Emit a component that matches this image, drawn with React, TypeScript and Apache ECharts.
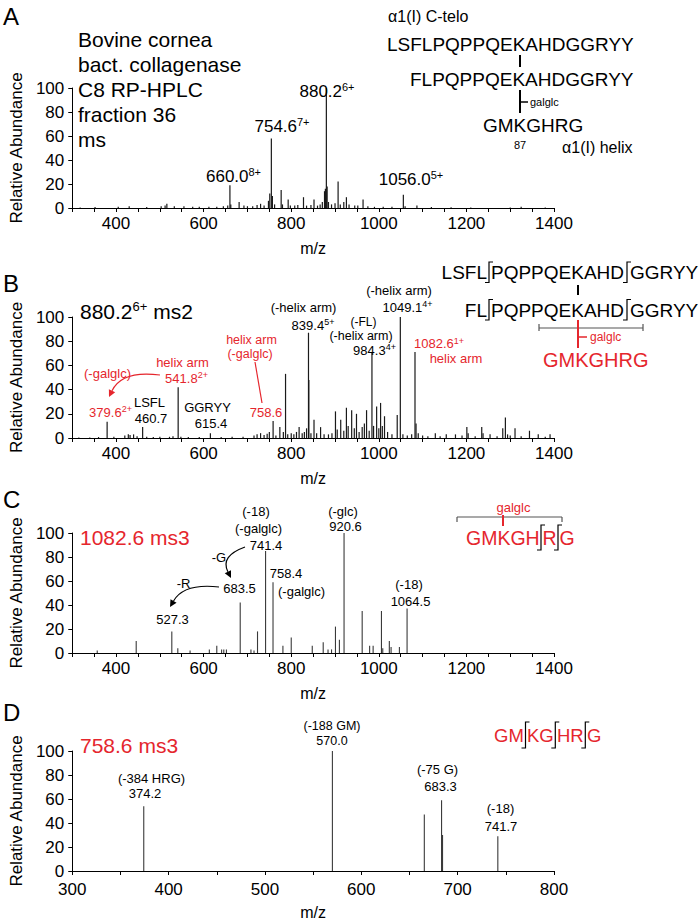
import React, { useEffect, useRef } from 'react';
import * as echarts from 'echarts';

const FONT = '"Liberation Sans", Arial, Helvetica, sans-serif';
const RED = '#e5262d';

// ---- data: [m/z, relative abundance] ----
const peaksA: [number, number][] = [
  [318, 0.5], [352, 0.8], [405, 1], [430, 1.5], [470, 0.8], [503, 1.5], [512, 2], [516, 3.5], [533, 1.5],
  [555, 1.5], [575, 1], [590, 1], [612, 1], [630, 1], [645, 1.5], [655, 2], [660, 19], [662, 3], [681, 5],
  [692, 2], [700, 1.5], [712, 1.5], [722, 2.5], [730, 3.5], [738, 2], [748, 6], [751, 12], [754.6, 58],
  [757, 10], [762, 3], [777, 15], [780, 3], [793, 7], [798, 2], [808, 2], [815, 2.5], [828, 9], [835, 2],
  [845, 2.5], [852, 7], [860, 2], [866, 3], [871, 5], [876, 14], [878, 16], [880.2, 100], [882, 18],
  [885, 5], [892, 3], [900, 4], [907, 22], [912, 3], [920, 5], [926, 9], [932, 3], [945, 2], [952, 2],
  [964, 7], [975, 1.5], [990, 1], [1010, 1], [1030, 1], [1056, 11], [1060, 1.5], [1087, 2], [1120, 0.8],
  [1165, 0.6], [1210, 0.5], [1300, 0.5], [1325, 1], [1380, 0.5],
];
const peaksB: [number, number][] = [
  [315, 0.5], [340, 0.5], [360, 0.8], [379.6, 13.5], [395, 1], [420, 2], [428, 3], [432, 2.5], [440, 3],
  [448, 1.5], [460.7, 9], [470, 1], [485, 0.8], [500, 1], [522, 1], [530, 1.5], [541.8, 42], [548, 1],
  [565, 0.8], [590, 0.8], [615.4, 4], [640, 0.8], [665, 1], [690, 1], [715, 2], [722, 3], [730, 4],
  [738, 2.5], [745, 3.5], [750, 5], [758.6, 14], [765, 2], [774, 9], [782, 5], [787, 53], [792, 3],
  [800, 4], [806, 3], [812, 5], [818, 9], [825, 4], [830, 5], [835, 8], [839.4, 87], [840.2, 48],
  [845, 4], [852, 15], [858, 4], [867, 9], [875, 3], [885, 3], [893, 4], [901, 22], [905, 7], [913, 15],
  [920, 6], [926, 25], [930, 10], [938, 23], [944, 8], [949, 20], [955, 5], [962, 9], [967, 12],
  [972, 23], [978, 6], [984.3, 71], [988, 10], [995, 26], [1000, 8], [1004, 29], [1008, 10], [1013, 18],
  [1020, 5], [1030, 3], [1042, 19], [1049.1, 100], [1055, 3], [1065, 2], [1075, 3], [1082.6, 71],
  [1085, 12], [1090, 4], [1100, 2], [1112, 1.5], [1129, 4], [1140, 1.5], [1154, 3], [1175, 3],
  [1190, 2], [1201, 9], [1204, 4], [1220, 1.5], [1235, 9], [1238, 4], [1254, 3], [1270, 1.5],
  [1283, 8], [1289, 17], [1294, 3], [1300, 2], [1311, 8], [1325, 1.5], [1344, 6], [1364, 3],
  [1380, 1], [1391, 3],
];
const peaksC: [number, number][] = [
  [357, 2], [446, 10], [527.3, 18], [541, 4], [569, 2], [613, 3], [630, 6], [641, 3], [646, 3], [652, 3],
  [683.5, 42], [708, 3], [715, 2], [723, 18], [741.4, 85], [758.4, 59], [781, 6], [800, 13], [848, 6],
  [873, 9], [884, 3], [892, 3], [901, 22], [910, 11], [920.6, 100], [962, 35], [979, 6], [987, 6],
  [1006, 35], [1009, 4], [1024, 10], [1028, 5], [1047, 5], [1064.5, 37],
];
const peaksD: [number, number][] = [
  [374.2, 54], [570.0, 100], [665.4, 47], [683.3, 59], [684.3, 30], [741.7, 29],
];

const xLabelsWide = [400, 600, 800, 1000, 1200, 1400];
const xLabelsD = [300, 400, 500, 600, 700, 800];
const yTicks = [0, 20, 40, 60, 80, 100];

const grids = [
  { left: 71, top: 88, width: 483, height: 120 },
  { left: 71, top: 317, width: 483, height: 121 },
  { left: 71, top: 533, width: 483, height: 120 },
  { left: 71, top: 751, width: 483, height: 121 },
];

function T(x: number, y: number, text: string, size: number, color = '#000', align = 'center') {
  return {
    type: 'text', x, y, silent: true, z: 100,
    style: {
      text, fontSize: size, fontFamily: FONT, fill: color,
      textAlign: align, textVerticalAlign: 'middle', align, verticalAlign: 'middle',
    },
  };
}

function S(x: number, y: number, main: string, sup: string, size: number, supSize: number, color = '#000', align = 'center', tail = '') {
  const text = `{m|${main}}{s|${sup}}` + (tail ? `{m|${tail}}` : '');
  return {
    type: 'text', x, y, silent: true, z: 100,
    style: {
      text, fontSize: size, fontFamily: FONT, fill: color,
      textAlign: align, textVerticalAlign: 'middle', align, verticalAlign: 'middle',
      rich: {
        m: { fontSize: size, fontFamily: FONT, fill: color, lineHeight: size + 2 },
        s: { fontSize: supSize, fontFamily: FONT, fill: color, verticalAlign: 'top', lineHeight: supSize },
      },
    },
  };
}

function L(x1: number, y1: number, x2: number, y2: number, color = '#000', w = 1) {
  return { type: 'line', silent: true, z: 100, shape: { x1, y1, x2, y2 }, style: { stroke: color, lineWidth: w } };
}

function bracket(x: number, top: number, bottom: number, color = '#000') {
  return {
    type: 'polyline', silent: true, z: 100,
    shape: { points: [[x + 4, top], [x, top], [x, bottom], [x - 4, bottom]] },
    style: { stroke: color, fill: 'none', lineWidth: 1.2 },
  };
}

function curvedArrow(sx: number, sy: number, cx: number, cy: number, ex: number, ey: number, color: string) {
  const dx = ex - cx, dy = ey - cy;
  const len = Math.sqrt(dx * dx + dy * dy) || 1;
  const ux = dx / len, uy = dy / len;
  const size = 7;
  const bx = ex - ux * size, by = ey - uy * size;
  const px = -uy, py = ux;
  return [
    {
      type: 'bezierCurve', silent: true, z: 100,
      shape: { x1: sx, y1: sy, cpx1: cx, cpy1: cy, x2: bx, y2: by },
      style: { stroke: color, fill: 'none', lineWidth: 1.2 },
    },
    {
      type: 'polygon', silent: true, z: 100,
      shape: { points: [[ex, ey], [bx + px * 3.5, by + py * 3.5], [bx - px * 3.5, by - py * 3.5]] },
      style: { fill: color },
    },
  ];
}

function buildGraphic() {
  const g: any[] = [];
  // Panel A
  g.push(T(3, 16, 'A', 24, '#000', 'left'));
  ['Bovine cornea', 'bact. collagenase', 'C8 RP-HPLC', 'fraction 36', 'ms'].forEach((s, i) =>
    g.push(T(78, 39 + i * 25, s, 21, '#000', 'left')));
  g.push(S(327, 91, '880.2', '6+', 17, 11));
  g.push(S(282, 126, '754.6', '7+', 17, 11));
  g.push(S(233.5, 176, '660.0', '8+', 17, 11));
  g.push(S(411, 179, '1056.0', '5+', 17, 11));
  g.push(T(388, 16, 'α1(I) C-telo', 16, '#000', 'left'));
  g.push(T(387, 44.5, 'LSFLPQPPQEKAHDGGRYY', 19, '#000', 'left'));
  g.push(L(520, 55, 520, 67, '#000', 2));
  g.push(T(410, 79.5, 'FLPQPPQEKAHDGGRYY', 19, '#000', 'left'));
  g.push(L(520, 90, 520, 113, '#000', 2));
  g.push(L(520, 102, 528, 102, '#000', 1.5));
  g.push(T(530, 102, 'galglc', 11, '#000', 'left'));
  g.push(T(483, 125, 'GMKGHRG', 19, '#000', 'left'));
  g.push(T(520, 145, '87', 11));
  g.push(T(562, 147, 'α1(I) helix', 16, '#000', 'left'));

  // Panel B
  g.push(T(3, 283, 'B', 24, '#000', 'left'));
  g.push(S(80, 311, '880.2', '6+', 21, 13, '#000', 'left', ' ms2'));
  g.push(T(303.5, 307, '(-helix arm)', 13));
  g.push(S(313, 325, '839.4', '5+', 13, 9));
  g.push(T(399, 290, '(-helix arm)', 13));
  g.push(S(407.5, 307, '1049.1', '4+', 13, 9));
  g.push(T(363.5, 321.5, '(-FL)', 12));
  g.push(T(361, 335.5, '(-helix arm)', 12.5));
  g.push(S(374.5, 350, '984.3', '4+', 13, 9));
  g.push(S(439, 343.5, '1082.6', '1+', 13, 9, RED));
  g.push(T(456, 358.5, 'helix arm', 13, RED));
  g.push(T(182.5, 362.5, 'helix arm', 13, RED));
  g.push(S(186.5, 378, '541.8', '2+', 13, 9, RED));
  g.push(T(107.5, 373, '(-galglc)', 13, RED));
  g.push(S(110.5, 412, '379.6', '2+', 13, 9, RED));
  g.push(T(149.5, 402.5, 'LSFL', 13));
  g.push(T(151, 418, '460.7', 13));
  g.push(T(207.5, 407.5, 'GGRYY', 13));
  g.push(T(211, 423, '615.4', 13));
  g.push(T(251.5, 340, 'helix arm', 12.5, RED));
  g.push(T(250, 354, '(-galglc)', 12.5, RED));
  g.push(L(255, 362, 262, 403, RED, 1.2));
  g.push(T(266, 412, '758.6', 13, RED));
  g.push(...curvedArrow(160, 375, 122, 370, 109, 397, RED));
  // sequence B
  [272.5, 310].forEach((yy, i) => {
    g.push(T(487, yy, i === 0 ? 'LSFL' : 'FL', 19, '#000', 'right'));
    g.push(bracket(489, yy - 10.5, yy + 10));
    g.push(T(491, yy, 'PQPPQEKAHD', 19, '#000', 'left'));
    g.push(bracket(627, yy - 10.5, yy + 10));
    g.push(T(630, yy, 'GGRYY', 19, '#000', 'left'));
  });
  g.push(L(578, 285, 578, 295, '#000', 2));
  g.push(L(539, 328, 643, 328, '#555', 1.2));
  g.push(L(539, 324, 539, 331, '#555', 1.2));
  g.push(L(643, 324, 643, 331, '#555', 1.2));
  g.push(L(578, 320, 578, 348, RED, 2));
  g.push(L(578, 337, 587, 337, RED, 1.5));
  g.push(T(590, 337, 'galglc', 12, RED, 'left'));
  g.push(T(543, 360, 'GMKGHRG', 20, RED, 'left'));

  // Panel C
  g.push(T(3, 499, 'C', 24, '#000', 'left'));
  g.push(T(80, 537, '1082.6 ms3', 21, RED, 'left'));
  g.push(T(256, 511.5, '(-18)', 13));
  g.push(T(258.5, 528, '(-galglc)', 13));
  g.push(T(266, 545, '741.4', 13));
  g.push(T(219, 557, '-G', 13));
  g.push(...curvedArrow(245, 547, 220, 556, 231, 578, '#000'));
  g.push(T(286, 573, '758.4', 13));
  g.push(T(301.5, 591, '(-galglc)', 13));
  g.push(T(183.5, 583, '-R', 13));
  g.push(T(239.5, 588, '683.5', 13));
  g.push(...curvedArrow(219, 587, 184, 583, 170, 607, '#000'));
  g.push(T(172.5, 619, '527.3', 13));
  g.push(T(343, 511, '(-glc)', 13));
  g.push(T(345.5, 526.5, '920.6', 13));
  g.push(T(409, 584, '(-18)', 13));
  g.push(T(410.5, 601, '1064.5', 13));
  g.push(L(457, 517, 562, 517, '#555', 1.2));
  g.push(L(457, 517, 457, 522, '#555', 1.2));
  g.push(L(562, 517, 562, 522, '#555', 1.2));
  g.push(T(513.5, 507, 'galglc', 13, RED));
  g.push(L(503, 515, 503, 526, RED, 2));
  g.push(T(466, 538, 'GMKGH', 19.5, RED, 'left'));
  g.push(bracket(541, 525, 550));
  g.push(T(542.5, 538, 'R', 19.5, RED, 'left'));
  g.push(bracket(558, 525, 550));
  g.push(T(559.5, 538, 'G', 19.5, RED, 'left'));

  // Panel D
  g.push(T(3, 712, 'D', 24, '#000', 'left'));
  g.push(T(80, 745, '758.6 ms3', 21, RED, 'left'));
  g.push(T(151.5, 778, '(-384 HRG)', 13));
  g.push(T(145, 793.5, '374.2', 13));
  g.push(T(332, 726, '(-188 GM)', 12.5));
  g.push(T(332, 740.5, '570.0', 12.5));
  g.push(T(437.5, 769, '(-75 G)', 13));
  g.push(T(440.5, 786, '683.3', 13));
  g.push(T(500.5, 808, '(-18)', 13));
  g.push(T(501, 826, '741.7', 13));
  g.push(T(494, 735, 'GM', 18.5, RED, 'left'));
  g.push(bracket(525.5, 722, 748));
  g.push(T(527, 735, 'KG', 18.5, RED, 'left'));
  g.push(bracket(555.3, 722, 748));
  g.push(T(557, 735, 'HR', 18.5, RED, 'left'));
  g.push(bracket(585.3, 722, 748));
  g.push(T(587, 735, 'G', 18.5, RED, 'left'));
  return g;
}

export default function App() {
  const ref = useRef<HTMLDivElement>(null);
  useEffect(() => {
    document.body.style.margin = '0';
    if (!ref.current) return;
    const chart = echarts.init(ref.current, undefined, { renderer: 'svg' });
    const spectra = [peaksA, peaksB, peaksC, peaksD];
    const colors = ['#1a1a1a', '#1a1a1a', '#3a3a3a', '#3a3a3a'];
    const widths = [1.2, 1.2, 1.1, 1.1];
    const xAxis = grids.map((_, i) => {
      const isD = i === 3;
      const labels = isD ? xLabelsD : xLabelsWide;
      return {
        type: 'value', gridIndex: i, min: 300, max: isD ? 800 : 1400, interval: 50,
        axisLine: { show: true, lineStyle: { color: '#000', width: 1 } },
        axisTick: { show: true, inside: false, length: 4, lineStyle: { color: '#000' } },
        axisLabel: {
          color: '#000', fontSize: 17, fontFamily: FONT, margin: isD ? 10 : 7,
          formatter: (v: number) => (labels.includes(v) ? String(v) : ''),
        },
        splitLine: { show: false },
        name: 'm/z', nameLocation: 'middle', nameGap: isD ? 33 : 32,
        nameTextStyle: { color: '#000', fontSize: 16, fontFamily: FONT },
      };
    });
    const yAxis = grids.map((_, i) => ({
      type: 'value', gridIndex: i, min: 0, max: 100, interval: 20,
      axisLine: { show: true, lineStyle: { color: '#000', width: 1 } },
      axisTick: { show: true, inside: false, length: 4, lineStyle: { color: '#000' } },
      axisLabel: {
        color: '#000', fontSize: 17, fontFamily: FONT, margin: 8,
        formatter: (v: number) => (yTicks.includes(v) ? String(v) : ''),
      },
      splitLine: { show: false },
      name: 'Relative Abundance', nameLocation: 'middle', nameGap: 46, nameRotate: 90,
      nameTextStyle: { color: '#000', fontSize: 17, fontFamily: FONT },
    }));
    const series = spectra.map((data, i) => ({
      type: 'custom', xAxisIndex: i, yAxisIndex: i, data,
      encode: { x: 0, y: 1 },
      renderItem: (_p: any, api: any) => {
        const b = api.coord([api.value(0), 0]);
        const t = api.coord([api.value(0), api.value(1)]);
        return {
          type: 'line',
          shape: { x1: b[0], y1: b[1], x2: t[0], y2: t[1] },
          style: { stroke: colors[i], lineWidth: widths[i] },
        };
      },
    }));
    chart.setOption({
      animation: false,
      backgroundColor: '#fff',
      grid: grids,
      xAxis, yAxis, series,
      graphic: buildGraphic(),
    } as any);
    return () => chart.dispose();
  }, []);
  return <div ref={ref} style={{ width: 700, height: 921 }} />;
}
